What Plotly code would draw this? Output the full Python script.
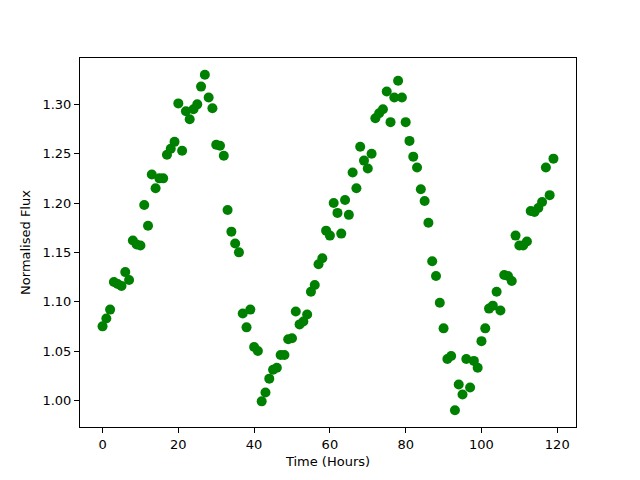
import plotly.graph_objects as go

# Time in hours and normalised flux
time_hours = list(range(120))
flux = [
    1.075, 1.083, 1.092, 1.120, 1.118, 1.116, 1.130, 1.122, 1.162, 1.158,
    1.157, 1.198, 1.177, 1.229, 1.215, 1.225, 1.225, 1.249, 1.255, 1.262,
    1.301, 1.253, 1.293, 1.285, 1.295, 1.300, 1.318, 1.330, 1.307, 1.296,
    1.259, 1.258, 1.248, 1.193, 1.171, 1.159, 1.150, 1.088, 1.074, 1.092,
    1.054, 1.050, 0.999, 1.008, 1.022, 1.031, 1.033, 1.046, 1.046, 1.062,
    1.063, 1.090, 1.077, 1.080, 1.087, 1.110, 1.117, 1.138, 1.144, 1.172,
    1.167, 1.200, 1.190, 1.169, 1.203, 1.188, 1.231, 1.215, 1.257, 1.243,
    1.235, 1.250, 1.286, 1.291, 1.295, 1.313, 1.282, 1.307, 1.324, 1.307,
    1.282, 1.263, 1.247, 1.236, 1.214, 1.202, 1.180, 1.141, 1.126, 1.099,
    1.073, 1.042, 1.045, 0.990, 1.016, 1.006, 1.042, 1.013, 1.040, 1.033,
    1.060, 1.073, 1.093, 1.096, 1.110, 1.091, 1.127, 1.126, 1.121, 1.167,
    1.157, 1.157, 1.161, 1.192, 1.191, 1.195, 1.201, 1.236, 1.208, 1.245,
]

fig = go.Figure(go.Scatter(
    x=time_hours, y=flux, mode="markers",
    marker=dict(color="#008000", size=10, line=dict(width=0)),
))

axis_style = dict(
    showline=True, linewidth=1, linecolor="black", mirror=True,
    ticks="outside", ticklen=5, tickcolor="black", showgrid=False,
    zeroline=False, automargin=False, tickfont=dict(size=13, color="black"),
)

# the page body adds an 8px offset, so margins are shifted to compensate
fig.update_layout(
    width=640, height=480,
    plot_bgcolor="white", paper_bgcolor="white",
    font=dict(family="DejaVu Sans", size=13, color="black"),
    margin=dict(l=72, r=72, t=50, b=61),
    showlegend=False,
)
fig.update_xaxes(axis_style, range=[-5.95, 124.95], dtick=20,
                 title=dict(text="Time (Hours)", standoff=6, font=dict(size=13)))
fig.update_yaxes(axis_style, range=[0.973, 1.347], dtick=0.05, tickformat=".2f",
                 title=dict(text="Normalised Flux", standoff=8, font=dict(size=13)))

fig.write_html("out.html")
